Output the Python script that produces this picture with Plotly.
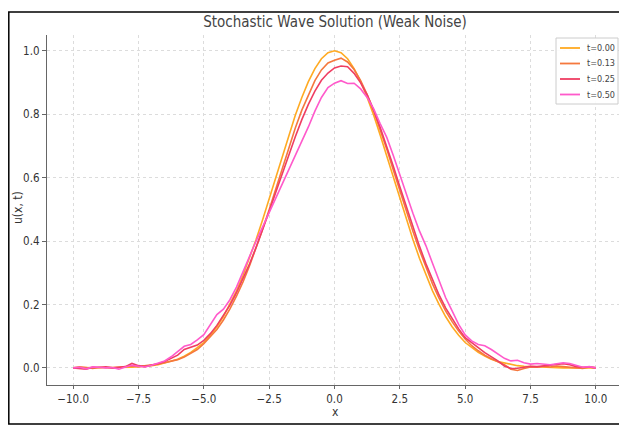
import plotly.graph_objects as go

# sample positions x = -10 ... 10 (step 0.25)
X = [i / 4 for i in range(-40, 41)]

T_LABELS = ["t=0.00", "t=0.13", "t=0.25", "t=0.50"]
COLORS = ["#FFAA22", "#F5783E", "#EF3E62", "#FF5ACB"]

U_000_LEFT = [0.000, 0.000, 0.000, 0.000, 0.000, 0.000, 0.001, 0.001, 0.002, 0.002,
              0.004, 0.005, 0.007, 0.010, 0.015, 0.020, 0.027, 0.037, 0.049, 0.064,
              0.080, 0.103, 0.130, 0.162, 0.200, 0.243, 0.292, 0.346, 0.405, 0.467,
              0.533, 0.601, 0.668, 0.734, 0.797, 0.853, 0.903, 0.944, 0.975, 0.994]
U_000 = U_000_LEFT + [1.000] + U_000_LEFT[::-1]

U_013 = [0.000, 0.003, 0.001, -0.002, 0.002, 0.001, 0.000, 0.002, 0.004, 0.006,
         0.004, 0.006, 0.009, 0.012, 0.016, 0.020, 0.026, 0.034, 0.046, 0.058,
         0.076, 0.097, 0.121, 0.151, 0.186, 0.226, 0.271, 0.322, 0.378, 0.437,
         0.499, 0.564, 0.630, 0.694, 0.757, 0.813, 0.862, 0.906, 0.940, 0.962,
         0.970,
         0.977, 0.965, 0.941, 0.906, 0.862, 0.810, 0.752, 0.690, 0.624, 0.559,
         0.494, 0.431, 0.372, 0.316, 0.265, 0.220, 0.180, 0.146, 0.116, 0.091,
         0.070, 0.054, 0.040, 0.029, 0.020, 0.010, -0.004, -0.008, -0.002, 0.003,
         0.002, 0.005, 0.003, 0.006, 0.004, 0.002, 0.000, -0.002, 0.003, 0.000]

U_025 = [0.000, -0.002, -0.004, 0.002, 0.001, 0.003, 0.000, 0.002, 0.004, 0.014,
         0.007, 0.004, 0.008, 0.013, 0.020, 0.030, 0.040, 0.058, 0.064, 0.072,
         0.087, 0.108, 0.134, 0.164, 0.198, 0.237, 0.280, 0.328, 0.380, 0.435,
         0.493, 0.553, 0.613, 0.672, 0.729, 0.783, 0.831, 0.873, 0.907, 0.930,
         0.946,
         0.952, 0.950, 0.929, 0.899, 0.861, 0.813, 0.758, 0.699, 0.636, 0.571,
         0.506, 0.444, 0.384, 0.328, 0.276, 0.230, 0.189, 0.154, 0.123, 0.095,
         0.078, 0.064, 0.048, 0.035, 0.022, 0.006, -0.002, -0.001, 0.002, 0.005,
         0.004, 0.006, 0.008, 0.012, 0.013, 0.010, 0.004, 0.002, 0.003, 0.000]

U_050 = [0.000, 0.002, -0.003, 0.003, 0.002, 0.000, 0.001, -0.004, 0.003, 0.008,
         0.005, 0.003, 0.008, 0.014, 0.022, 0.035, 0.052, 0.068, 0.074, 0.088,
         0.105, 0.138, 0.168, 0.185, 0.215, 0.255, 0.303, 0.355, 0.400, 0.445,
         0.490, 0.533, 0.575, 0.620, 0.665, 0.711, 0.760, 0.810, 0.853, 0.884,
         0.898,
         0.906, 0.897, 0.898, 0.880, 0.853, 0.817, 0.770, 0.727, 0.670, 0.608,
         0.548, 0.488, 0.432, 0.385, 0.330, 0.278, 0.222, 0.180, 0.137, 0.104,
         0.085, 0.074, 0.070, 0.058, 0.045, 0.030, 0.022, 0.024, 0.016, 0.012,
         0.014, 0.012, 0.010, 0.013, 0.016, 0.014, 0.008, 0.002, 0.004, 0.000]

SERIES = [U_000, U_013, U_025, U_050]

X_TICKS = [-10, -7.5, -5, -2.5, 0, 2.5, 5, 7.5, 10]
X_TICK_TEXT = ["\u221210.0", "\u22127.5", "\u22125.0", "\u22122.5", "0.0", "2.5", "5.0", "7.5", "10.0"]
Y_TICKS = [0, 0.2, 0.4, 0.6, 0.8, 1.0]
Y_TICK_TEXT = ["0.0", "0.2", "0.4", "0.6", "0.8", "1.0"]

FONT = "DejaVu Sans Condensed, Liberation Sans Narrow, DejaVu Sans, sans-serif"

fig = go.Figure()
for name, ys, col in zip(T_LABELS, SERIES, COLORS):
    fig.add_trace(go.Scatter(x=X, y=ys, mode="lines", name=name,
                             line=dict(color=col, width=1.6)))

# the page shows the figure offset by the default 8px body margin
OFF = 8
W, H = 627 - OFF, 426 - OFF
ML, MR, MT, MB = 47 - OFF, 5, 35 - OFF, 41
PW, PH = W - ML - MR, H - MT - MB


def px_x(p):
    return (p - OFF - ML) / PW


def px_y(p):
    return (H - MB - (p - OFF)) / PH


fig.update_layout(
    width=W, height=H,
    margin=dict(l=ML, r=MR, t=MT, b=MB),
    paper_bgcolor="white", plot_bgcolor="white",
    font=dict(family=FONT, color="#333333", size=11.5),
    title=dict(text="Stochastic Wave Solution (Weak Noise)",
               x=px_x(335) * PW / W + ML / W, xanchor="center",
               y=1 - (22 - OFF) / H, yanchor="middle",
               font=dict(size=15, color="#444444")),
    showlegend=False,
    xaxis=dict(range=[-11, 11], tickvals=X_TICKS, ticktext=X_TICK_TEXT,
               showgrid=True, gridcolor="#dcdcdc", griddash="dot", gridwidth=1,
               zeroline=False, showline=True, linecolor="#666666", linewidth=1.3,
               ticks="outside", ticklen=3, tickcolor="#666666"),
    yaxis=dict(range=[-0.054, 1.05], tickvals=Y_TICKS, ticktext=Y_TICK_TEXT,
               showgrid=True, gridcolor="#dcdcdc", griddash="dot", gridwidth=1,
               zeroline=False, showline=True, linecolor="#666666", linewidth=1.3,
               ticks="outside", ticklen=4, tickcolor="#666666"),
)

# axis titles placed where the reference shows them
fig.add_annotation(text="x", xref="paper", yref="paper",
                   x=px_x(335), y=px_y(412), xanchor="center", yanchor="middle",
                   showarrow=False, font=dict(size=12, color="#333333"))
fig.add_annotation(text="u(x, t)", xref="paper", yref="paper",
                   x=px_x(18), y=px_y(208), xanchor="center", yanchor="middle",
                   textangle=-90, showarrow=False, font=dict(size=12, color="#333333"))

# legend drawn as a compact box like the reference
fig.add_shape(type="rect", xref="paper", yref="paper",
              x0=px_x(556), x1=px_x(618), y0=px_y(104), y1=px_y(38),
              line=dict(color="#cccccc", width=1), fillcolor="rgba(255,255,255,0.9)",
              layer="above")
LEG_ROWS = [48, 63.5, 79, 94.5]
for name, col, ry in zip(T_LABELS, COLORS, LEG_ROWS):
    fig.add_shape(type="line", xref="paper", yref="paper",
                  x0=px_x(560), x1=px_x(580), y0=px_y(ry), y1=px_y(ry),
                  line=dict(color=col, width=1.8), layer="above")
    fig.add_annotation(text=name, xref="paper", yref="paper",
                       x=px_x(585), y=px_y(ry), xanchor="left", yanchor="middle",
                       showarrow=False, font=dict(size=9, color="#444444"))

# outer black frame of the picture
fig.add_shape(type="rect", xref="paper", yref="paper",
              x0=px_x(8.8), x1=px_x(624), y0=px_y(424), y1=px_y(12),
              line=dict(color="black", width=1.5), fillcolor="rgba(0,0,0,0)",
              layer="above")

fig.write_html("out.html")
